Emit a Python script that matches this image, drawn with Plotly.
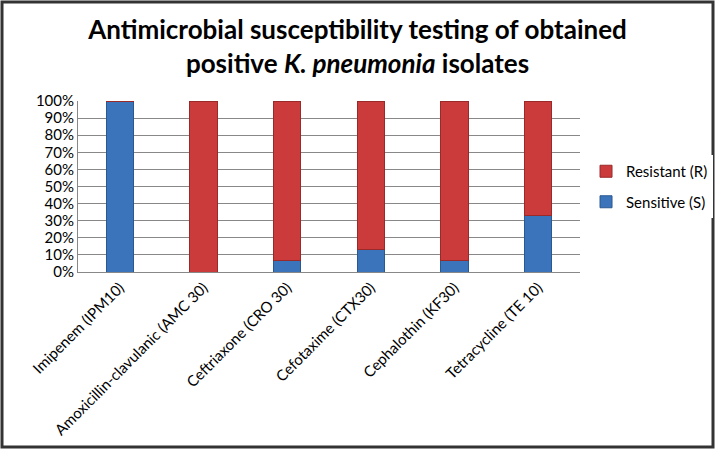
import plotly.graph_objects as go

categories = ["Imipenem (IPM10)", "Amoxicillin-clavulanic (AMC 30)", "Ceftriaxone (CRO 30)",
              "Cefotaxime (CTX30)", "Cephalothin (KF30)", "Tetracycline (TE 10)"]
sensitive = [100, 0, 6.7, 13.3, 6.7, 33.3]
resistant = [0, 100, 93.3, 86.7, 93.3, 66.7]
y_ticks = [0, 10, 20, 30, 40, 50, 60, 70, 80, 90, 100]
y_tick_labels = [f"{v}%" for v in y_ticks]

W, H = 715, 449
L, R, T, B = 78, 135, 101, 177
pw, ph = W - L - R, H - T - B

fig = go.Figure()
fig.add_trace(go.Bar(x=categories, y=sensitive, name="Sensitive (S)", legendgroup="s", legendrank=2,
                     marker=dict(color="#3B74BA", line=dict(color="#2A5890", width=1))))
fig.add_trace(go.Bar(x=categories, y=resistant, name="Resistant (R)", legendgroup="r", legendrank=1,
                     marker=dict(color="#CC3B3B", line=dict(color="#9A2A2A", width=1))))

font = "Lato, 'Open Sans', sans-serif"
fig.update_layout(
    width=W, height=H,
    margin=dict(l=L, r=R, t=T, b=B, autoexpand=False),
    barmode="stack", bargap=0.67,
    plot_bgcolor="white", paper_bgcolor="white",
    font=dict(family=font, color="#000000", size=15),
    title=dict(text="<b>Antimicrobial susceptibility testing of obtained<br>positive <i>K. pneumonia</i> isolates</b>",
               x=0.5, xanchor="center", xref="container", y=1 - 39 / H, yanchor="middle", yref="container",
               font=dict(family=font, size=26, color="#000000")),
    legend=dict(traceorder="grouped", x=1.012, xanchor="left", y=0.5, yanchor="middle",
                font=dict(size=15, family=font), itemwidth=30, tracegroupgap=8),
    xaxis=dict(tickangle=-45, showline=True, linecolor="#888888", linewidth=1, automargin=False,
               tickfont=dict(size=15, family=font), ticks=""),
    yaxis=dict(range=[0, 100], tickvals=y_ticks, ticktext=y_tick_labels, automargin=False,
               showgrid=True, gridcolor="#888888", gridwidth=1,
               showline=True, linecolor="#888888", linewidth=1,
               tickfont=dict(size=15, family=font), ticks=""),
)

# outer frame
x0 = (2 - L) / pw
x1 = (W - 2 - L) / pw
y0 = -(H - 2 - T - ph) / ph
y1 = 1 + (T - 2) / ph
fig.add_shape(type="rect", xref="paper", yref="paper", x0=x0, x1=x1, y0=y0, y1=y1,
              line=dict(color="#333333", width=3), layer="above")

fig.write_html("out.html", config={"displayModeBar": False},
               post_script="document.body.style.margin='0';document.body.style.overflow='hidden';")
